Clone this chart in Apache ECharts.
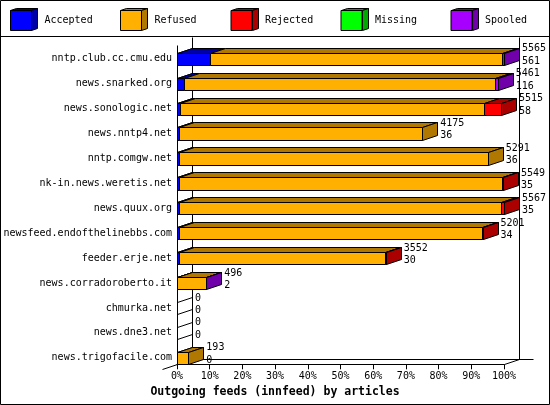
<!DOCTYPE html>
<html><head><meta charset="utf-8">
<script src="https://cdn.jsdelivr.net/npm/echarts/dist/echarts.min.js"></script>
<style>html,body{margin:0;padding:0;background:#fff}#c{width:550px;height:405px}</style>
</head><body><div id="c"></div>
<script>
const hosts = ['nntp.club.cc.cmu.edu','news.snarked.org','news.sonologic.net','news.nntp4.net','nntp.comgw.net','nk-in.news.weretis.net','news.quux.org','newsfeed.endofthelinebbs.com','feeder.erje.net','news.corradoroberto.it','chmurka.net','news.dne3.net','news.trigofacile.com'];
const offered  = [5565,5461,5515,4175,5291,5549,5567,5201,3552,496,0,0,193];
const accepted = [561,116,58,36,36,35,35,34,30,2,0,0,0];
const refused  = [4969,5300,5173,4139,5255,5499,5482,5157,3514,491,0,0,193];
const rejected = [0,0,284,0,0,15,50,10,8,0,0,0,0];
const missing  = [0,0,0,0,0,0,0,0,0,0,0,0,0];
const spooled  = [35,45,0,0,0,0,0,0,0,3,0,0,0];
const xTicks = [0,10,20,30,40,50,60,70,80,90,100];
const seriesNames = ['Accepted','Refused','Rejected','Missing','Spooled'];
const seriesValues = [accepted, refused, rejected, missing, spooled];
const frontColors = ['#0000ff','#ffb000','#ff0000','#00ff00','#a800ff'];
const darkColors  = ['#0000a8','#b07800','#aa0000','#00a800','#7000aa'];

const FONT = '"DejaVu Sans Mono", monospace';
const DX = 15, DY = -5;
const maxTotal = Math.max(...offered);
const pct = v => v / maxTotal * 100;
const px = v => Math.round(v) + 0.5;

// stacked data
const barData = seriesNames.map(() => []);
const endPct = [];
hosts.forEach((h, i) => {
  let lastIdx = -1;
  seriesValues.forEach((arr, s) => { if (arr[i] > 0) lastIdx = s; });
  let cum = 0;
  seriesValues.forEach((arr, s) => {
    const v = arr[i];
    if (v > 0) barData[s].push([pct(cum), pct(cum + v), i, s === lastIdx ? 1 : 0]);
    cum += v;
  });
  endPct.push(pct(cum));
});
const labelData = hosts.map((h, i) => [endPct[i], i, offered[i], accepted[i]]);

function line(xa, ya, xb, yb) {
  return {type:'line', shape:{x1:px(xa), y1:px(ya), x2:px(xb), y2:px(yb)}, style:{stroke:'#000', lineWidth:1}};
}

function renderFrame(params, api) {
  const n = hosts.length;
  const a = api.coord([0, 0]);
  const b = api.coord([100, n - 1]);
  const band = api.size([0, 1])[1];
  const x0 = a[0], x1 = b[0], c0 = a[1], cN = b[1];
  const fb = cN + band * 0.25;
  const backTop = c0 - band * 0.88;
  const ch = [];
  ch.push(line(x0 + DX, backTop, x0 + DX, fb + DY));
  ch.push(line(x1 + DX, backTop, x1 + DX, fb + DY));
  ch.push(line(x0 + DX, fb + DY, x1 + DX + 14, fb + DY));
  ch.push(line(x0, c0 - band * 0.56, x0, fb));
  ch.push(line(x1, fb, x1 + DX, fb + DY));
  ch.push(line(x0 - DX, fb - DY, x0, fb));
  for (let i = 0; i < n; i++) {
    const c = api.coord([0, i])[1];
    const t = c - band * 0.24, bt = c + band * 0.25;
    ch.push(line(x0, t, x0 + DX, t + DY));
    ch.push(line(x0, bt, x0 + DX, bt + DY));
  }
  return {type:'group', children: ch};
}

function makeBarRender(s) {
  return function (params, api) {
    const st = api.value(0), en = api.value(1), cat = api.value(2), last = api.value(3);
    const p0 = api.coord([st, cat]), p1 = api.coord([en, cat]);
    const band = api.size([0, 1])[1];
    const top = px(p0[1] - band * 0.24), bot = px(p0[1] + band * 0.25);
    const xs = px(p0[0]), xe = px(p1[0]);
    const stroke = {stroke:'#000', lineWidth:1};
    const ch = [
      {type:'polygon', shape:{points:[[xs, top], [xs + DX, top + DY], [xe + DX, top + DY], [xe, top]]}, style:Object.assign({fill: darkColors[s]}, stroke)},
      {type:'rect', shape:{x: xs, y: top, width: Math.max(xe - xs, 0), height: bot - top}, style:Object.assign({fill: frontColors[s]}, stroke)}
    ];
    if (last) ch.push({type:'polygon', shape:{points:[[xe, top], [xe + DX, top + DY], [xe + DX, bot + DY], [xe, bot]]}, style:Object.assign({fill: darkColors[s]}, stroke)});
    return {type:'group', children: ch};
  };
}

function renderLabels(params, api) {
  const en = api.value(0), cat = api.value(1);
  const p = api.coord([en, cat]);
  const x = p[0] + DX + 3;
  const mk = (t, y) => ({type:'text', style:{text: String(t), x: x, y: y, fill:'#000', font:'10px ' + FONT, align:'left', verticalAlign:'middle'}});
  return {type:'group', children:[mk(api.value(2), p[1] - 10), mk(api.value(3), p[1] + 2.4)]};
}

const series = [{
  type:'custom', name:'frame', renderItem: renderFrame, data:[[0, 0]], encode:{x:0, y:1}, z:1, clip:false, silent:true
}];
seriesNames.forEach((nm, s) => {
  series.push({type:'custom', name: nm, renderItem: makeBarRender(s), data: barData[s], encode:{x:[0, 1], y:2}, z:2, clip:false, itemStyle:{color: frontColors[s]}});
});
series.push({type:'custom', name:'labels', renderItem: renderLabels, data: labelData, encode:{x:0, y:1}, z:3, clip:false, silent:true});

const legendX = [10, 120, 230.5, 340.5, 450.5];
const legends = seriesNames.map((nm, s) => ({
  data:[nm], left: legendX[s], top: 10, padding: 0, itemWidth: 21, itemHeight: 20, icon:'rect',
  selectedMode: false, itemStyle:{borderColor:'#000', borderWidth:1},
  textStyle:{fontFamily: FONT, fontSize: 10, color:'#000', padding:[0, 0, 0, 8]}
}));

const graphics = [
  {type:'rect', shape:{x:0.5, y:0.5, width:549, height:404}, style:{fill:'none', stroke:'#000', lineWidth:1}, z:0},
  {type:'line', shape:{x1:0, y1:36.5, x2:550, y2:36.5}, style:{stroke:'#000', lineWidth:1}}
];
legendX.forEach((x, s) => {
  const L = Math.round(x) + 0.5;
  graphics.push({type:'polygon', shape:{points:[[L, 10.5], [L + 6, 8.5], [L + 27, 8.5], [L + 21, 10.5]]}, style:{fill: darkColors[s], stroke:'#000', lineWidth:1}});
  graphics.push({type:'polygon', shape:{points:[[L + 21, 10.5], [L + 27, 8.5], [L + 27, 28.5], [L + 21, 30.5]]}, style:{fill: darkColors[s], stroke:'#000', lineWidth:1}});
});

const chart = echarts.init(document.getElementById('c'), null, {renderer:'canvas'});
chart.setOption({
  animation: false,
  backgroundColor: '#fff',
  title: {text:'Outgoing feeds (innfeed) by articles', left:'center', top: 385, padding: 0,
    textStyle:{fontFamily: FONT, fontWeight:'bold', fontSize: 11.5, color:'#000', lineHeight: 14}},
  legend: legends,
  grid: {left: 177, right: 46, top: 46.2, bottom: 34.7},
  xAxis: {type:'value', min: 0, max: 100, interval: 10, position:'bottom', offset: -6,
    axisLine:{show:true, lineStyle:{color:'#000', width:1}},
    axisTick:{show:true, length: 5, lineStyle:{color:'#000'}},
    axisLabel:{formatter:'{value}%', margin: 7, fontFamily: FONT, fontSize: 10, color:'#000', customValues: xTicks},
    splitLine:{show:false}},
  yAxis: {type:'category', data: hosts, inverse: true,
    axisLine:{show:false}, axisTick:{show:false},
    axisLabel:{fontFamily: FONT, fontSize: 10, color:'#000', margin: 5},
    splitLine:{show:false}},
  graphic: graphics,
  series: series
});
</script></body></html>
